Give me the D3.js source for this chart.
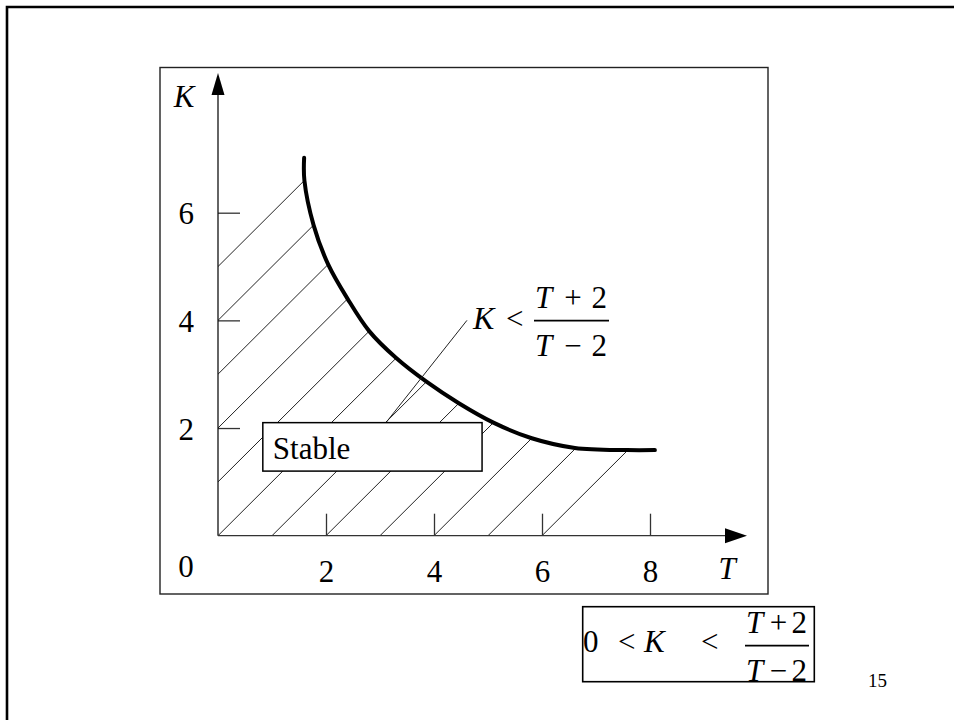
<!DOCTYPE html>
<html>
<head>
<meta charset="utf-8">
<script src="https://cdn.jsdelivr.net/npm/d3@7"></script>
<style>
  body { margin: 0; background: #fff; }
  svg { display: block; }
  text { font-family: "Liberation Serif", "Times New Roman", serif; fill: #000; }
</style>
</head>
<body>
<svg id="chart" width="954" height="720"></svg>
<script>
// Stability boundary K = (T+2)/(T-2), sampled along the drawn curve
const curveT = [1.595, 1.60, 1.77, 2.04, 2.40, 2.80, 3.30, 3.86, 4.46, 5.10, 5.81, 6.61, 7.57, 8.09];
const curveK = [7.02, 6.60, 5.77, 5.04, 4.40, 3.80, 3.30, 2.86, 2.46, 2.10, 1.81, 1.63, 1.59, 1.59];

// Axis ticks
const kTicks = [2, 4, 6];
const tTicks = [2, 4, 6, 8];

// Hatch lines K = T + c inside the stable region
const hatchOffsets = [-6, -5, -4, -3, -2, -1, 0, 1, 2, 3, 4, 5];

// "Stable" label box (T range, K range) and leader to the inequality label
const stableBoxT = [0.83, 4.89];
const stableBoxK = [1.20, 2.10];
const leaderT = [3.11, 4.61];
const leaderK = [2.10, 4.00];

const svg = d3.select("#chart");
const font = 31;

// Slide frame
svg.append("path")
  .attr("d", "M7,720 L7,7 L954,7")
  .attr("fill", "none").attr("stroke", "#000").attr("stroke-width", 2.6);

// Chart frame
svg.append("rect")
  .attr("x", 160).attr("y", 67.5).attr("width", 608).attr("height", 526.5)
  .attr("fill", "none").attr("stroke", "#222").attr("stroke-width", 1.4);

const x = d3.scaleLinear().domain([0, 8]).range([218, 650]);
const y = d3.scaleLinear().domain([0, 6]).range([535.7, 212.7]);

const pts = curveT.map((t, i) => [t, curveK[i]]);
const boundary = d3.line().x(d => x(d[0])).y(d => y(d[1])).curve(d3.curveCatmullRom.alpha(0.5));

// Clip region: under the curve, above the T axis, right of the K axis
const tEnd = curveT[curveT.length - 1];
const clipD = `M${x(0)},${y(0)} L${x(tEnd)},${y(0)} L` +
  boundary(pts.slice().reverse()).slice(1) + ` L${x(0)},${y(curveK[0])} Z`;
svg.append("clipPath").attr("id", "stableRegion")
  .append("path").attr("d", clipD);

svg.append("g").attr("clip-path", "url(#stableRegion)")
  .selectAll("line").data(hatchOffsets).join("line")
  .attr("x1", c => x(Math.max(0, -c)))
  .attr("y1", c => y(Math.max(0, c)))
  .attr("x2", c => x(Math.max(0, -c) + 10))
  .attr("y2", c => y(Math.max(0, c) + 10))
  .attr("stroke", "#222").attr("stroke-width", 1);

// Axes
const yAxis = d3.axisLeft(y).tickValues(kTicks).tickFormat(d3.format("d"))
  .tickSizeInner(-22).tickSizeOuter(0).tickPadding(24);
const gy = svg.append("g").attr("transform", `translate(${x(0)},0)`).call(yAxis);
gy.select(".domain").remove();
gy.attr("font-size", font).attr("font-family", null);
gy.selectAll(".tick line").attr("stroke", "#333").attr("stroke-width", 1.3);
gy.selectAll(".tick text").attr("fill", "#000").attr("dy", "0.36em");

const xAxis = d3.axisBottom(x).tickValues(tTicks).tickFormat(d3.format("d"))
  .tickSizeInner(-22).tickSizeOuter(0).tickPadding(24);
const gx = svg.append("g").attr("transform", `translate(0,${y(0)})`).call(xAxis);
gx.select(".domain").remove();
gx.attr("font-size", font).attr("font-family", null);
gx.selectAll(".tick line").attr("stroke", "#333").attr("stroke-width", 1.3);
gx.selectAll(".tick text").attr("fill", "#000");

// Axis lines with arrowheads
svg.append("line").attr("x1", x(0)).attr("y1", y(0)).attr("x2", x(0)).attr("y2", 90)
  .attr("stroke", "#111").attr("stroke-width", 1.3);
svg.append("path").attr("d", `M${x(0)},73 L${x(0) - 6.5},95 L${x(0) + 6.5},95 Z`).attr("fill", "#000");
svg.append("line").attr("x1", x(0)).attr("y1", y(0)).attr("x2", 730).attr("y2", y(0))
  .attr("stroke", "#333").attr("stroke-width", 1.3);
svg.append("path").attr("d", `M747,${y(0)} L725,${y(0) - 7.5} L725,${y(0) + 7.5} Z`).attr("fill", "#000");

svg.append("text").attr("x", x(0) - 32).attr("y", 577).attr("text-anchor", "middle")
  .attr("font-size", font).text("0");
svg.append("text").attr("x", 184).attr("y", 107).attr("text-anchor", "middle")
  .attr("font-size", font).attr("font-style", "italic").text("K");
svg.append("text").attr("x", 727).attr("y", 579).attr("text-anchor", "middle")
  .attr("font-size", font).attr("font-style", "italic").text("T");

// Boundary curve
svg.append("path")
  .attr("d", boundary(pts))
  .attr("fill", "none").attr("stroke", "#000").attr("stroke-width", 4).attr("stroke-linecap", "round");

// Leader line to the inequality label
svg.append("line")
  .attr("x1", x(leaderT[0])).attr("y1", y(leaderK[0]))
  .attr("x2", x(leaderT[1])).attr("y2", y(leaderK[1]))
  .attr("stroke", "#222").attr("stroke-width", 1);

// "Stable" box
svg.append("rect")
  .attr("x", x(stableBoxT[0])).attr("y", y(stableBoxK[1]))
  .attr("width", x(stableBoxT[1]) - x(stableBoxT[0]))
  .attr("height", y(stableBoxK[0]) - y(stableBoxK[1]))
  .attr("fill", "#fff").attr("stroke", "#000").attr("stroke-width", 1.5);
svg.append("text").attr("x", x(stableBoxT[0]) + 10).attr("y", 459)
  .attr("font-size", font).text("Stable");

// Fraction (T+2)/(T-2): T at the left edge, operator centred, 2 at the right edge
function fraction(g, left, right, barY, size) {
  g.append("line").attr("x1", left - 1).attr("x2", right + 2).attr("y1", barY).attr("y2", barY)
    .attr("stroke", "#000").attr("stroke-width", 1.8);
  const rows = [["+", barY - 13], ["\u2212", barY + 35]];
  rows.forEach(([op, base]) => {
    g.append("text").attr("x", left).attr("y", base).attr("font-size", size)
      .attr("font-style", "italic").text("T");
    g.append("text").attr("x", (left + right) / 2 + 2).attr("y", base).attr("font-size", size)
      .attr("text-anchor", "middle").text(op);
    g.append("text").attr("x", right).attr("y", base).attr("font-size", size)
      .attr("text-anchor", "end").text("2");
  });
}

// Curve label
const lab = svg.append("g");
lab.append("text").attr("x", 473).attr("y", 329).attr("font-size", font + 1).attr("font-style", "italic").text("K");
lab.append("text").attr("x", 506).attr("y", 329).attr("font-size", font).text("<");
fraction(lab, 535, 607, 320.7, font);

// Stability condition box
const cond = svg.append("g");
cond.append("rect").attr("x", 582.7).attr("y", 606.7).attr("width", 231.6).attr("height", 75)
  .attr("fill", "none").attr("stroke", "#000").attr("stroke-width", 1.6);
cond.append("text").attr("x", 583).attr("y", 652).attr("font-size", font).text("0");
cond.append("text").attr("x", 618).attr("y", 652).attr("font-size", font).text("<");
cond.append("text").attr("x", 644).attr("y", 652).attr("font-size", font).attr("font-style", "italic").text("K");
cond.append("text").attr("x", 701).attr("y", 652).attr("font-size", font).text("<");
fraction(cond, 746, 807, 645.7, font);

// Page number
svg.append("text").attr("x", 868).attr("y", 687).attr("font-size", 19).text("15");
</script>
</body>
</html>
